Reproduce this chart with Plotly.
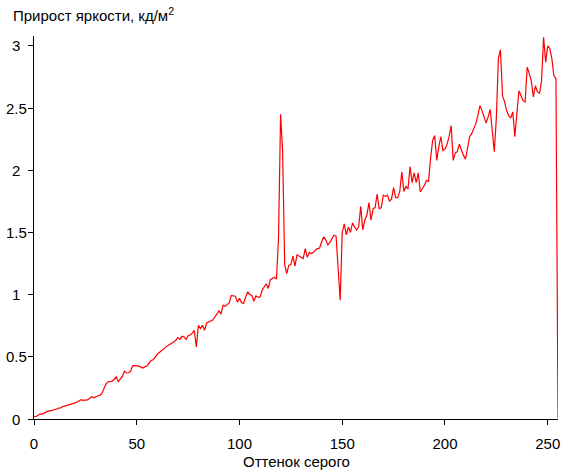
import plotly.graph_objects as go

gray_level = list(range(256))
brightness_gain = [
    0.02, 0.02, 0.03, 0.04, 0.04, 0.05, 0.06, 0.065, 0.065, 0.07,
    0.07, 0.08, 0.088, 0.09, 0.10, 0.105, 0.108, 0.115, 0.12, 0.12,
    0.13, 0.137, 0.145, 0.155, 0.15, 0.152, 0.153, 0.165, 0.18, 0.17,
    0.18, 0.185, 0.19, 0.204, 0.244, 0.28, 0.298, 0.30, 0.305, 0.318,
    0.338, 0.30, 0.325, 0.343, 0.384, 0.37, 0.372, 0.384, 0.427, 0.43,
    0.43, 0.425, 0.415, 0.41, 0.42, 0.427, 0.45, 0.47, 0.477, 0.50,
    0.52, 0.535, 0.55, 0.56, 0.575, 0.59, 0.60, 0.607, 0.62, 0.633,
    0.655, 0.64, 0.665, 0.66, 0.64, 0.67, 0.675, 0.69, 0.713, 0.58,
    0.754, 0.727, 0.754, 0.713, 0.772, 0.78, 0.79, 0.795, 0.82, 0.848,
    0.87, 0.843, 0.915, 0.907, 0.92, 0.934, 0.993, 0.99, 0.987, 0.94,
    0.97, 0.937, 0.93, 0.98, 1.022, 1.00, 0.995, 0.947, 0.99, 0.98,
    0.98, 1.035, 1.06, 1.088, 1.05, 1.12, 1.13, 1.14, 1.125, 1.46,
    2.45, 2.15, 1.24, 1.17, 1.237, 1.24, 1.31, 1.23, 1.32, 1.31,
    1.30, 1.29, 1.37, 1.30, 1.34, 1.33, 1.34, 1.36, 1.37, 1.375,
    1.425, 1.465, 1.44, 1.40, 1.42, 1.45, 1.478, 1.47, 1.20, 0.955,
    1.50, 1.57, 1.48, 1.545, 1.50, 1.577, 1.545, 1.52, 1.545, 1.71,
    1.52, 1.60, 1.64, 1.74, 1.60, 1.69, 1.70, 1.808, 1.69, 1.70,
    1.80, 1.79, 1.80, 1.75, 1.77, 1.86, 1.78, 1.78, 1.83, 1.987,
    1.83, 1.87, 1.85, 2.03, 1.90, 1.98, 1.90, 1.98, 1.826, 1.85,
    1.88, 1.92, 1.91, 2.10, 2.24, 2.28, 2.08, 2.19, 2.27, 2.16,
    2.17, 2.21, 2.27, 2.36, 2.08, 2.14, 2.15, 2.21, 2.16, 2.12,
    2.09, 2.20, 2.27, 2.295, 2.335, 2.375, 2.44, 2.52, 2.48, 2.43,
    2.38, 2.43, 2.49, 2.32, 2.15, 2.42, 2.90, 2.97, 2.60, 2.55,
    2.48, 2.44, 2.42, 2.47, 2.27, 2.46, 2.64, 2.60, 2.56, 2.55,
    2.83, 2.78, 2.72, 2.59, 2.68, 2.63, 2.62, 2.72, 3.07, 2.87,
    3.00, 2.98, 2.90, 2.76, 2.74, 0.01,
]

x_ticks = [0, 50, 100, 150, 200, 250]
y_ticks = [0, 0.5, 1, 1.5, 2, 2.5, 3]
y_tick_text = ["0", "0.5", "1", "1.5", "2", "2.5", "3"]

FONT = "Arial, Liberation Sans, sans-serif"
FS = 15

fig = go.Figure()
fig.add_trace(go.Scatter(
    x=gray_level, y=brightness_gain, mode="lines",
    line=dict(color="#ff0000", width=1.2),
    hoverinfo="skip", cliponaxis=False,
))

axis_common = dict(
    showline=True, linecolor="black", linewidth=1,
    ticks="outside", ticklen=5, tickcolor="black", tickwidth=1,
    showgrid=False, zeroline=False, automargin=False,
    tickfont=dict(family=FONT, size=FS, color="black"),
)

fig.update_xaxes(range=[0, 255], tickvals=x_ticks, ticklabelstandoff=6, **axis_common)
fig.update_yaxes(range=[0, 3.08], tickvals=y_ticks, showticklabels=False, **axis_common)

annotations = [
    dict(text="Прирост яркости, кд/м<sup>2</sup>", xref="paper", yref="paper",
         x=0, y=1, xanchor="left", yanchor="middle", xshift=-23, yshift=22,
         showarrow=False, font=dict(family=FONT, size=FS, color="black")),
    dict(text="Оттенок серого", xref="paper", yref="paper",
         x=0.5, y=0, xanchor="center", yanchor="middle", yshift=-42,
         showarrow=False, font=dict(family=FONT, size=FS, color="black")),
]
# y tick labels, centred in the left margin as in the reference
for v, t in zip(y_ticks, y_tick_text):
    annotations.append(dict(
        text=t, xref="paper", yref="y", x=0, y=v, xanchor="center", yanchor="middle",
        xshift=-18, showarrow=False, font=dict(family=FONT, size=FS, color="black")))

fig.update_layout(
    width=561, height=471,
    margin=dict(l=34, r=3, t=36, b=52, autoexpand=False),
    plot_bgcolor="white", paper_bgcolor="white",
    showlegend=False,
    font=dict(family=FONT, size=FS, color="black"),
    annotations=annotations,
)

fig.write_html(
    "out.html",
    config={"displayModeBar": False, "staticPlot": True},
    post_script="document.body.style.margin='0';document.body.style.overflow='hidden';",
)
